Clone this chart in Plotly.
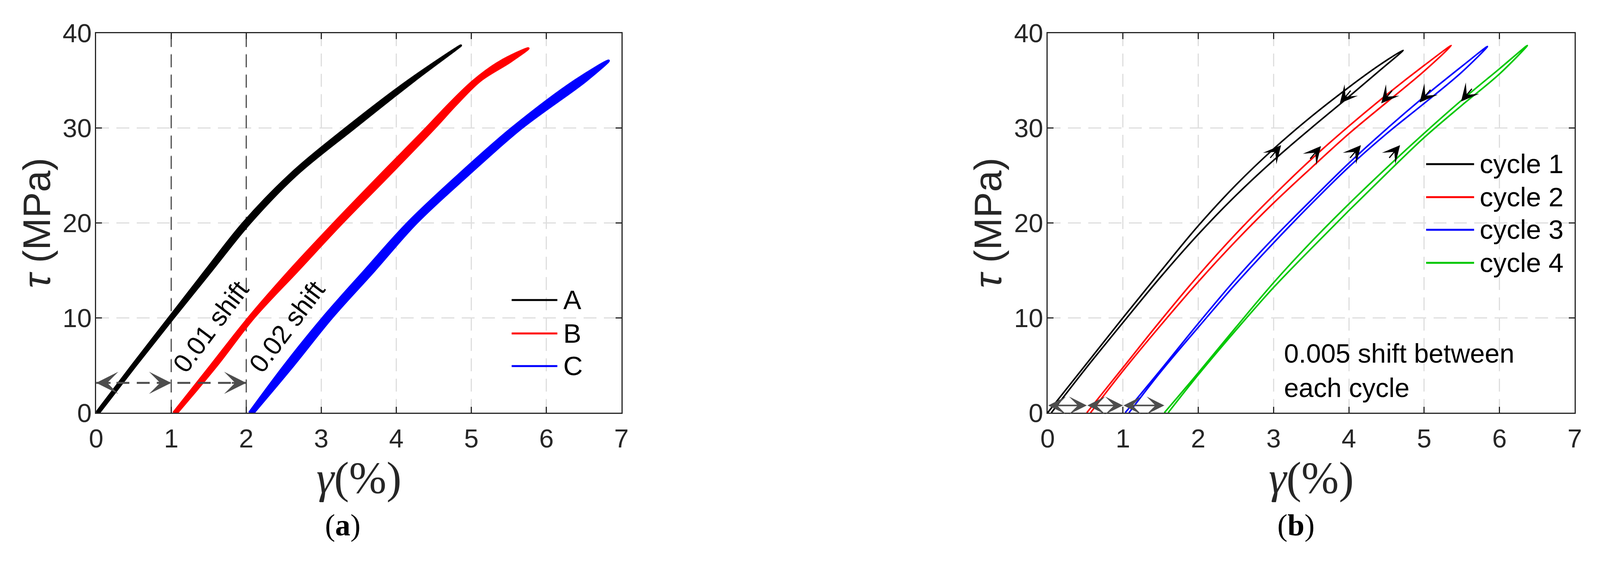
import plotly.graph_objects as go

# ---------------- panel (a): three specimens (loading / unloading branches)
A_load_x = [0.00, 0.48, 0.97, 1.46, 1.96, 2.57, 3.33, 4.16, 4.86]
A_load_y = [0, 5, 10, 15, 20, 25, 30, 35, 38.7]
A_unload_x = [4.86, 4.24, 3.44, 2.66, 2.05, 1.54, 1.03, 0.53, 0.04]
A_unload_y = [38.7, 35, 30, 25, 20, 15, 10, 5, 0]

B_load_x = [1.03, 1.53, 2.03, 2.58, 3.17, 3.78, 4.40, 4.70, 5.03, 5.38, 5.76]
B_load_y = [0, 5, 10, 15, 20, 25, 30, 32.5, 35, 37, 38.4]
B_unload_x = [5.76, 5.52, 5.12, 4.80, 4.51, 3.90, 3.28, 2.69, 2.10, 1.61, 1.08]
B_unload_y = [38.4, 37, 35, 32.5, 30, 25, 20, 15, 10, 5, 0]

C_load_x = [2.04, 2.51, 3.02, 3.58, 4.15, 4.82, 5.54, 6.38, 6.83]
C_load_y = [0, 5, 10, 15, 20, 25, 30, 35, 37.1]
C_unload_x = [6.83, 6.53, 5.67, 4.95, 4.27, 3.71, 3.14, 2.63, 2.10]
C_unload_y = [37.1, 35, 30, 25, 20, 15, 10, 5, 0]

shift_lines_a = [1, 2]
shift_arrow_a_x = [0, 1, 2]
shift_arrow_a_y = 3.15
shift_labels_a = ["0.01 shift", "0.02 shift"]
shift_label_a_x = [1.525, 2.54]
shift_label_a_y = [9.1, 9.1]

# ---------------- panel (b): four cycles
c1_load_x = [0.00, 0.50, 1.00, 1.50, 2.00, 2.50, 3.00, 3.50, 4.00, 4.40, 4.72]
c1_load_y = [0.0, 5.0, 10.0, 14.9, 19.7, 24.0, 27.8, 31.2, 34.3, 36.6, 38.2]
c1_unload_x = [4.72, 4.40, 4.00, 3.50, 3.00, 2.50, 2.00, 1.50, 1.00, 0.50, 0.05]
c1_unload_y = [38.2, 36.0, 33.3, 30.0, 26.6, 22.9, 18.8, 14.3, 9.5, 4.6, 0.0]

c2_load_x = [0.52, 1.00, 1.50, 2.00, 2.50, 3.00, 3.50, 4.00, 4.50, 5.00, 5.36]
c2_load_y = [0.0, 4.75, 9.7, 14.45, 18.85, 22.9, 26.7, 30.2, 33.5, 36.6, 38.7]
c2_unload_x = [5.36, 5.00, 4.50, 4.00, 3.50, 3.00, 2.50, 2.00, 1.50, 1.00, 0.57]
c2_unload_y = [38.7, 36.0, 32.7, 29.4, 25.8, 22.1, 18.1, 13.8, 9.2, 4.4, 0.0]

c3_load_x = [1.03, 1.50, 2.00, 2.50, 3.00, 3.50, 4.00, 4.50, 5.00, 5.50, 5.84]
c3_load_y = [0.0, 4.5, 9.4, 14.1, 18.4, 22.4, 26.3, 29.9, 33.3, 36.5, 38.6]
c3_unload_x = [5.84, 5.50, 5.00, 4.50, 4.00, 3.50, 3.00, 2.50, 2.00, 1.50, 1.08]
c3_unload_y = [38.6, 35.9, 32.6, 29.4, 25.9, 22.0, 17.9, 13.6, 9.0, 4.3, 0.0]

c4_load_x = [1.55, 2.00, 2.50, 3.00, 3.50, 4.00, 4.50, 5.00, 5.50, 6.00, 6.37]
c4_load_y = [0.0, 4.2, 9.0, 13.7, 18.0, 22.0, 25.8, 29.45, 32.95, 36.25, 38.7]
c4_unload_x = [6.37, 6.00, 5.50, 5.00, 4.50, 4.00, 3.50, 3.00, 2.50, 2.00, 1.60]
c4_unload_y = [38.7, 35.7, 32.4, 29.0, 25.2, 21.3, 17.3, 13.2, 8.7, 4.0, 0.0]

up_tip_x = [3.10, 3.63, 4.16, 4.68]
up_tip_y = [28.2, 28.1, 28.2, 28.2]
down_tip_x = [3.88, 4.43, 4.94, 5.49]
down_tip_y = [32.6, 32.6, 32.7, 32.8]

shift_arrow_b_x = [0, 0.52, 1.0, 1.55]
shift_arrow_b_y = 0.77

x_ticks = [0, 1, 2, 3, 4, 5, 6, 7]
y_ticks = [0, 10, 20, 30, 40]

# the page fills the browser window; positions below are given in picture pixels
W, H = 4240, 1456
PAGE_MARGIN = 8  # default body margin of the html page


def fx(px):
    return (px - PAGE_MARGIN) / W


def fy(py):
    return 1 - (py - PAGE_MARGIN) / H


AX = "#262626"
GRAY = "#4d4d4d"
SANS = "Liberation Sans"
SERIF = "Liberation Serif"

panel_a = [
    ("A", "#000000", A_load_x, A_load_y, A_unload_x, A_unload_y),
    ("B", "#ff0000", B_load_x, B_load_y, B_unload_x, B_unload_y),
    ("C", "#0000ff", C_load_x, C_load_y, C_unload_x, C_unload_y),
]
panel_b = [
    ("cycle 1", "#000000", c1_load_x, c1_load_y, c1_unload_x, c1_unload_y),
    ("cycle 2", "#ff0000", c2_load_x, c2_load_y, c2_unload_x, c2_unload_y),
    ("cycle 3", "#0000ff", c3_load_x, c3_load_y, c3_unload_x, c3_unload_y),
    ("cycle 4", "#00c800", c4_load_x, c4_load_y, c4_unload_x, c4_unload_y),
]

fig = go.Figure()

for name, color, lx, ly, ux, uy in panel_a:
    fig.add_trace(go.Scatter(
        x=lx + ux[1:], y=ly + uy[1:], mode="lines", name=name,
        fill="toself", fillcolor=color,
        line=dict(color=color, width=6, shape="spline", smoothing=1.0),
        xaxis="x", yaxis="y", showlegend=False, hoverinfo="skip"))

for name, color, lx, ly, ux, uy in panel_b:
    fig.add_trace(go.Scatter(
        x=lx + ux[1:], y=ly + uy[1:], mode="lines", name=name,
        line=dict(color=color, width=4, shape="spline", smoothing=1.0),
        xaxis="x2", yaxis="y2", showlegend=False, hoverinfo="skip"))

# dashed shift arrow in (a)
fig.add_trace(go.Scatter(
    x=[shift_arrow_a_x[0], shift_arrow_a_x[-1]], y=[shift_arrow_a_y] * 2,
    mode="lines", line=dict(color=GRAY, width=5, dash="33px,19px"),
    xaxis="x", yaxis="y", showlegend=False, hoverinfo="skip"))

shapes = []
for s in shift_lines_a:
    shapes.append(dict(type="line", xref="x", yref="y", x0=s, x1=s, y0=0, y1=40,
                       line=dict(color=GRAY, width=3, dash="33px,19px"), layer="between"))

annotations = []

# arrow heads of the dashed arrow (a)
heads_a = [(shift_arrow_a_x[0], shift_arrow_a_x[0] + 0.2),
           (shift_arrow_a_x[1], shift_arrow_a_x[1] - 0.2),
           (shift_arrow_a_x[2], shift_arrow_a_x[2] - 0.2)]
for tip, tail in heads_a:
    annotations.append(dict(xref="x", yref="y", axref="x", ayref="y",
                            x=tip, y=shift_arrow_a_y, ax=tail, ay=shift_arrow_a_y,
                            text="", showarrow=True, arrowhead=3, arrowwidth=4.5,
                            arrowsize=2.1, arrowcolor=GRAY, standoff=0))

for txt, tx, ty in zip(shift_labels_a, shift_label_a_x, shift_label_a_y):
    annotations.append(dict(xref="x", yref="y", x=tx, y=ty, text=txt, showarrow=False,
                            textangle=-53, font=dict(family=SANS, size=67, color="#000000")))

# double-headed shift arrows (b)
for x0, x1 in zip(shift_arrow_b_x[:-1], shift_arrow_b_x[1:]):
    annotations.append(dict(xref="x2", yref="y2", axref="x2", ayref="y2",
                            x=x1, y=shift_arrow_b_y, ax=x0, ay=shift_arrow_b_y,
                            text="", showarrow=True, arrowside="end+start",
                            arrowhead=3, startarrowhead=3, arrowwidth=4,
                            arrowsize=1.9, startarrowsize=1.9, arrowcolor=GRAY,
                            standoff=0, startstandoff=0))

# loading / unloading direction arrows (b)
for tx, ty in zip(up_tip_x, up_tip_y):
    annotations.append(dict(xref="x2", yref="y2", x=tx, y=ty, ax=-29, ay=34, text="",
                            showarrow=True, arrowhead=3, arrowwidth=3, arrowsize=2.5,
                            arrowcolor="#000000", standoff=0))
for tx, ty in zip(down_tip_x, down_tip_y):
    annotations.append(dict(xref="x2", yref="y2", x=tx, y=ty, ax=29, ay=-34, text="",
                            showarrow=True, arrowhead=3, arrowwidth=3, arrowsize=2.5,
                            arrowcolor="#000000", standoff=0))

annotations.append(dict(xref="x2", yref="y2", x=3.13, y=4.45, xanchor="left",
                        yanchor="middle", align="left", showarrow=False,
                        text="0.005 shift between<br>each cycle",
                        font=dict(family=SANS, size=68, color="#000000")))

# legends drawn inside the axes
leg_a_y = [0.297, 0.209, 0.123]
for (name, color, *_), ly in zip(panel_a, leg_a_y):
    shapes.append(dict(type="line", xref="x domain", yref="y domain", x0=0.791, x1=0.878,
                       y0=ly, y1=ly, line=dict(color=color, width=5)))
    annotations.append(dict(xref="x domain", yref="y domain", x=0.8875, y=ly, text=name,
                            xanchor="left", yanchor="middle", showarrow=False,
                            font=dict(family=SANS, size=69, color="#000000")))

leg_b_y = [0.655, 0.568, 0.482, 0.395]
for (name, color, *_), ly in zip(panel_b, leg_b_y):
    shapes.append(dict(type="line", xref="x2 domain", yref="y2 domain", x0=0.718, x1=0.809,
                       y0=ly, y1=ly, line=dict(color=color, width=5)))
    annotations.append(dict(xref="x2 domain", yref="y2 domain", x=0.818, y=ly, text=name,
                            xanchor="left", yanchor="middle", showarrow=False,
                            font=dict(family=SANS, size=69, color="#000000")))

# axis titles and panel labels
for px in (77, 2622):
    annotations.append(dict(xref="paper", yref="paper", x=fx(px), y=fy(561),
                            text="<i>τ</i> (MPa)", textangle=-90, showarrow=False,
                            xanchor="center", yanchor="middle",
                            font=dict(family=SANS, size=99, color=AX)))
for px in (939.5, 3487):
    annotations.append(dict(xref="paper", yref="paper", x=fx(px), y=fy(1248),
                            text="<i>γ</i>(%)", showarrow=False,
                            xanchor="center", yanchor="middle",
                            font=dict(family=SERIF, size=115, color=AX)))
for px, lab in ((897, "a"), (3446, "b")):
    annotations.append(dict(xref="paper", yref="paper", x=fx(px), y=fy(1376),
                            text="(<b>%s</b>)" % lab, showarrow=False,
                            xanchor="center", yanchor="middle",
                            font=dict(family=SERIF, size=78, color="#000000")))


def axis(domain, rng, ticks, anchor, standoff):
    return dict(domain=domain, range=rng, tickvals=ticks, anchor=anchor,
                ticks="inside", ticklen=15, tickwidth=3, tickcolor=AX,
                showline=True, linewidth=3, linecolor=AX, mirror="ticks",
                showgrid=True, gridcolor="#dedede", gridwidth=3, griddash="33px,19px",
                zeroline=False, ticklabelstandoff=standoff,
                tickfont=dict(family=SANS, size=67, color=AX))


ydom = [fy(1073), fy(49)]
fig.update_layout(
    margin=dict(l=0, r=0, t=0, b=0), autosize=True,
    paper_bgcolor="white", plot_bgcolor="white", showlegend=False,
    xaxis=axis([fx(237), fx(1642)], [0, 7], x_ticks, "y", 5),
    yaxis=axis(ydom, [0, 40], y_ticks, "x", -5),
    xaxis2=axis([fx(2782), fx(4192)], [0, 7], x_ticks, "y2", 5),
    yaxis2=axis(ydom, [0, 40], y_ticks, "x2", -5),
    shapes=shapes, annotations=annotations,
)

fig.write_html("out.html", default_width="100vw", default_height="100vh")
